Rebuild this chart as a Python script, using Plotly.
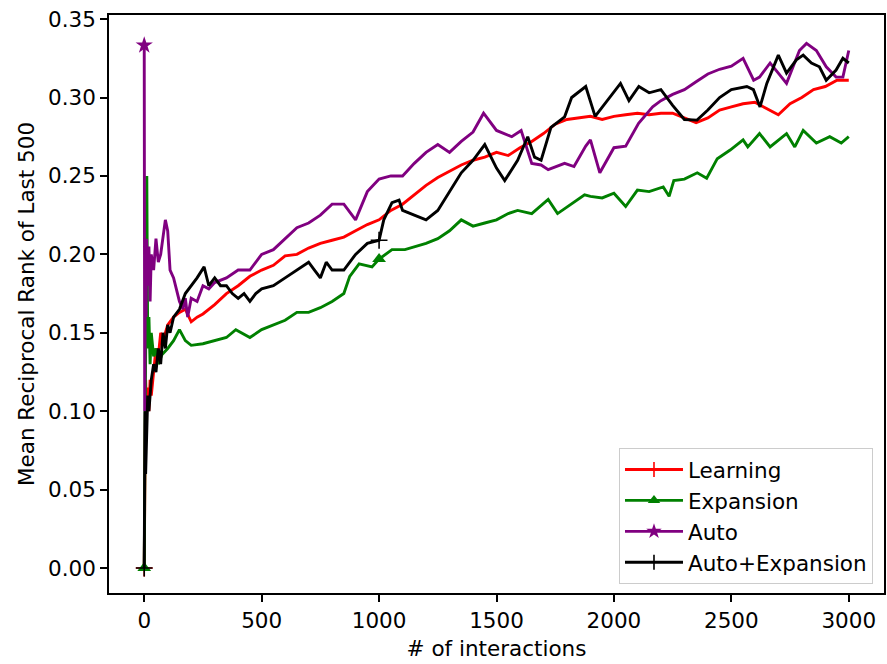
import plotly.graph_objects as go

# ---------------- data ----------------
RED_X = [0, 3, 6, 10, 15, 20, 25, 30, 40, 50, 60, 70, 80, 90, 100, 125, 150, 175, 200, 225,
         250, 300, 350, 400, 450, 500, 550, 600, 650, 700, 750, 800, 850, 900, 950, 1000,
         1050, 1100, 1150, 1200, 1250, 1300, 1350, 1400, 1450, 1500, 1550, 1600, 1650, 1700,
         1750, 1800, 1850, 1900, 1950, 2000, 2050, 2100, 2150, 2200, 2250, 2300, 2350, 2400,
         2450, 2500, 2550, 2600, 2650, 2700, 2750, 2800, 2850, 2900, 2950, 3000]
RED_Y = [0, 0.07, 0.12, 0.10, 0.115, 0.10, 0.12, 0.11, 0.125, 0.14,
         0.135, 0.15, 0.145, 0.15, 0.155, 0.16, 0.163, 0.165, 0.157, 0.16,
         0.162, 0.168, 0.175, 0.18, 0.186, 0.19, 0.193, 0.199, 0.2, 0.204, 0.207, 0.209, 0.211,
         0.215, 0.219, 0.222, 0.228, 0.232, 0.238, 0.244, 0.249, 0.253, 0.257, 0.26, 0.262,
         0.265, 0.263, 0.268, 0.272, 0.277, 0.283, 0.286, 0.287, 0.288, 0.286, 0.288, 0.289,
         0.29, 0.289, 0.29, 0.29, 0.287, 0.284, 0.287, 0.292, 0.294, 0.296, 0.297, 0.293,
         0.289, 0.296, 0.30, 0.305, 0.307, 0.311, 0.311]

GREEN_X = [0, 4, 8, 11, 13, 15, 20, 25, 30, 40, 50, 60, 75, 100, 125, 150, 175, 200, 250, 300,
           350, 390, 450, 500, 550, 600, 650, 700, 750, 800, 850, 875, 915, 970, 1000, 1055,
           1110, 1170, 1200, 1250, 1300, 1350, 1400, 1450, 1500, 1550, 1590, 1650, 1720, 1760,
           1820, 1875, 1900, 1950, 2000, 2050, 2100, 2150, 2210, 2235, 2255, 2300, 2355, 2395,
           2440, 2495, 2550, 2570, 2620, 2665, 2735, 2770, 2806, 2862, 2919, 2968, 3000]
GREEN_Y = [0, 0.10, 0.20, 0.25, 0.19, 0.14, 0.16, 0.13, 0.15, 0.135,
           0.14, 0.13, 0.136, 0.14, 0.145, 0.152, 0.145, 0.142, 0.143, 0.145,
           0.147, 0.152, 0.147, 0.152, 0.155, 0.158, 0.163, 0.163, 0.166, 0.17,
           0.175, 0.186, 0.194, 0.192, 0.197, 0.203, 0.203, 0.206, 0.207, 0.21,
           0.215, 0.222, 0.218, 0.22, 0.222, 0.226, 0.228, 0.226, 0.235, 0.226,
           0.2325, 0.238, 0.237, 0.236, 0.239, 0.2305, 0.241, 0.24, 0.243, 0.237,
           0.247, 0.248, 0.252, 0.2485, 0.261, 0.2665, 0.273, 0.2685, 0.277, 0.2685,
           0.277, 0.2685, 0.279, 0.271, 0.275, 0.271, 0.275]

PURPLE_X = [0, 2, 5, 8, 10, 15, 20, 25, 30, 40, 50, 60, 70, 80, 90, 100, 110, 125, 150, 165,
            175, 185, 200, 225, 250, 275, 300, 350, 400, 450, 500, 550, 600, 650, 700, 750,
            800, 850, 900, 950, 1000, 1050, 1100, 1150, 1200, 1250, 1300, 1350, 1400, 1445,
            1500, 1565, 1605, 1650, 1690, 1720, 1790, 1830, 1880, 1900, 1940, 2000, 2050,
            2105, 2165, 2200, 2250, 2300, 2350, 2400, 2450, 2500, 2550, 2595, 2620, 2665,
            2700, 2735, 2790, 2820, 2862, 2904, 2946, 2975, 3000]
PURPLE_Y = [0.3333, 0.10, 0.20, 0.16, 0.21, 0.18, 0.205, 0.17, 0.20, 0.19,
            0.21, 0.195, 0.20, 0.21, 0.222, 0.215, 0.19, 0.185, 0.17, 0.165,
            0.172, 0.16, 0.172, 0.17, 0.18, 0.178, 0.182, 0.185, 0.19, 0.19,
            0.2, 0.203, 0.21, 0.217, 0.22, 0.225, 0.232, 0.232, 0.222, 0.24,
            0.248, 0.25, 0.25, 0.258, 0.265, 0.27, 0.265, 0.272, 0.278, 0.29,
            0.279, 0.275, 0.279, 0.258, 0.257, 0.254, 0.258, 0.256, 0.269, 0.273,
            0.252, 0.268, 0.269, 0.2835, 0.294, 0.298, 0.302, 0.305, 0.31, 0.315,
            0.318, 0.32, 0.325, 0.311, 0.313, 0.322, 0.3155, 0.309, 0.33, 0.3345,
            0.33, 0.3196, 0.313, 0.313, 0.33]

BLACK_X = [0, 3, 6, 10, 15, 20, 30, 40, 50, 60, 70, 80, 90, 100, 110, 125, 150, 175, 200, 225,
           255, 275, 300, 325, 350, 375, 400, 425, 450, 475, 500, 550, 600, 650, 700, 725,
           750, 775, 800, 850, 900, 950, 1000, 1020, 1055, 1085, 1100, 1150, 1200, 1250,
           1300, 1350, 1400, 1450, 1500, 1535, 1590, 1633, 1662, 1690, 1732, 1790, 1820,
           1880, 1920, 1964, 2000, 2028, 2064, 2106, 2150, 2200, 2250, 2300, 2354, 2400,
           2450, 2500, 2566, 2594, 2622, 2651, 2700, 2735, 2777, 2806, 2841, 2875, 2904,
           2946, 2975, 3000]
BLACK_Y = [0, 0.10, 0.06, 0.085, 0.11, 0.10, 0.12, 0.13, 0.125, 0.14,
           0.13, 0.15, 0.14, 0.155, 0.15, 0.16, 0.165, 0.175, 0.18, 0.185,
           0.192, 0.18, 0.185, 0.18, 0.18, 0.175, 0.172, 0.175, 0.17, 0.175,
           0.178, 0.18, 0.185, 0.19, 0.195, 0.19, 0.185, 0.195, 0.19, 0.19,
           0.2, 0.207, 0.209, 0.222, 0.233, 0.2346, 0.228, 0.225, 0.222, 0.228,
           0.24, 0.252, 0.26, 0.27, 0.255, 0.247, 0.26, 0.275, 0.262, 0.26,
           0.281, 0.2877, 0.3, 0.307, 0.288, 0.2964, 0.303, 0.309, 0.298, 0.307,
           0.303, 0.305, 0.295, 0.286, 0.2856, 0.292, 0.3, 0.305, 0.307, 0.305,
           0.294, 0.309, 0.327, 0.3155, 0.324, 0.327, 0.322, 0.3196, 0.311, 0.3175,
           0.325, 0.322]

NAMES = ["Learning", "Expansion", "Auto", "Auto+Expansion"]
# x positions where each series shows its marker
MARK_AT = [[0], [0, 1000], [0], [0, 1000]]

# ---------------- styling ----------------
FONT = "DejaVu Sans"
FS = 21.5
COLORS = ["#ff0000", "#008000", "#800080", "#000000"]
SYMBOLS = ["cross-thin", "triangle-up", "star", "cross-thin"]
MSIZE = [12, 12, 13, 12]

series = [(RED_X, RED_Y), (GREEN_X, GREEN_Y), (PURPLE_X, PURPLE_Y), (BLACK_X, BLACK_Y)]
for xs, ys in series:
    assert len(xs) == len(ys)

fig = go.Figure()


def marker_dict(i, scale=1.0):
    d = dict(symbol=SYMBOLS[i], size=MSIZE[i] * scale, color=COLORS[i])
    if SYMBOLS[i] == "cross-thin":
        d["line"] = dict(width=1.6, color=COLORS[i])
    else:
        d["line"] = dict(width=0)
    return d


for i, (xs, ys) in enumerate(series):
    fig.add_trace(go.Scatter(x=xs, y=ys, mode="lines",
                             line=dict(color=COLORS[i], width=2.9),
                             showlegend=False, hoverinfo="skip"))
    lookup = dict(zip(xs, ys))
    mx = [x for x in MARK_AT[i] if x in lookup]
    my = [lookup[x] for x in mx]
    fig.add_trace(go.Scatter(x=mx, y=my, mode="markers", marker=marker_dict(i),
                             showlegend=False, hoverinfo="skip", cliponaxis=False))

# legend entries
for i in range(4):
    fig.add_trace(go.Scatter(x=[None], y=[None], mode="lines+markers", name=NAMES[i],
                             line=dict(color=COLORS[i], width=2.9),
                             marker=marker_dict(i, 0.9), legendgroup=NAMES[i]))

axis_common = dict(showline=True, linecolor="black", linewidth=1.5, mirror=True,
                   ticks="outside", ticklen=7, tickwidth=1.5, tickcolor="black",
                   showgrid=False, zeroline=False,
                   tickfont=dict(family=FONT, size=FS, color="black"))

fig.update_layout(
    width=887, height=664,
    margin=dict(l=109, r=1, t=15, b=71),
    paper_bgcolor="white", plot_bgcolor="white",
    font=dict(family=FONT, size=FS, color="black"),
    xaxis=dict(range=[-150, 3150], tickvals=[0, 500, 1000, 1500, 2000, 2500, 3000],
               title=dict(text="# of interactions", font=dict(family=FONT, size=FS), standoff=9),
               **axis_common),
    yaxis=dict(range=[-0.0159, 0.3526],
               tickvals=[0, 0.05, 0.1, 0.15, 0.2, 0.25, 0.3, 0.35],
               tickformat=".2f",
               title=dict(text="Mean Reciprocal Rank of Last 500", font=dict(family=FONT, size=FS), standoff=8),
               **axis_common),
    legend=dict(x=0.9858, y=0.0156, xanchor="right", yanchor="bottom",
                bgcolor="rgba(255,255,255,0.8)", bordercolor="#cccccc", borderwidth=1,
                font=dict(family=FONT, size=FS), tracegroupgap=0, itemwidth=58),
    showlegend=True,
)

fig.write_html("out.html")
